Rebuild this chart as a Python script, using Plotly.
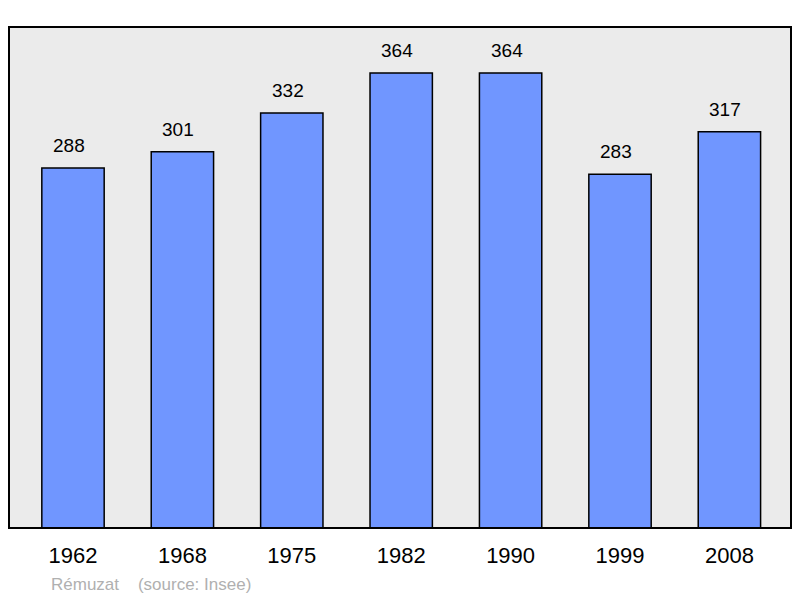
import plotly.graph_objects as go

years = ["1962", "1968", "1975", "1982", "1990", "1999", "2008"]
population = [288, 301, 332, 364, 364, 283, 317]
footer_text = "Rémuzat    (source: Insee)"

xpos = list(range(len(years)))
FONT = "Liberation Sans, Arial, sans-serif"

fig = go.Figure()
fig.add_trace(go.Bar(
    x=xpos, y=population, width=0.57,
    marker=dict(color="#7096ff", line=dict(color="#000000", width=1.5)),
    hoverinfo="skip",
))

for x, v in zip(xpos, population):
    fig.add_annotation(x=x, y=v, text=str(v), showarrow=False,
                       yanchor="bottom", yshift=10, xshift=-4,
                       font=dict(family=FONT, size=19, color="#000"))

fig.add_annotation(xref="paper", yref="paper", x=0.051, y=-0.113,
                   text=footer_text, showarrow=False, xanchor="left", yanchor="middle",
                   font=dict(family=FONT, size=17, color="#b0b0b0"))

fig.add_shape(type="rect", xref="paper", yref="paper", x0=0, y0=0, x1=1, y1=1,
              line=dict(color="#000000", width=2), fillcolor="rgba(0,0,0,0)", layer="above")

fig.update_layout(
    width=800, height=598,
    margin=dict(l=9, r=9, t=27, b=70),
    paper_bgcolor="#ffffff", plot_bgcolor="#ebebeb",
    showlegend=False,
    xaxis=dict(range=[-0.585, 6.563], tickvals=xpos, ticktext=years,
               showgrid=False, zeroline=False, ticks="", ticklabelstandoff=12,
               tickfont=dict(family=FONT, size=22, color="#000")),
    yaxis=dict(range=[0, 400.8], showgrid=False, zeroline=False, showticklabels=False, ticks=""),
)

fig.write_html("out.html", config={"displayModeBar": False},
               post_script="document.body.style.margin='0';document.body.style.padding='0';")
